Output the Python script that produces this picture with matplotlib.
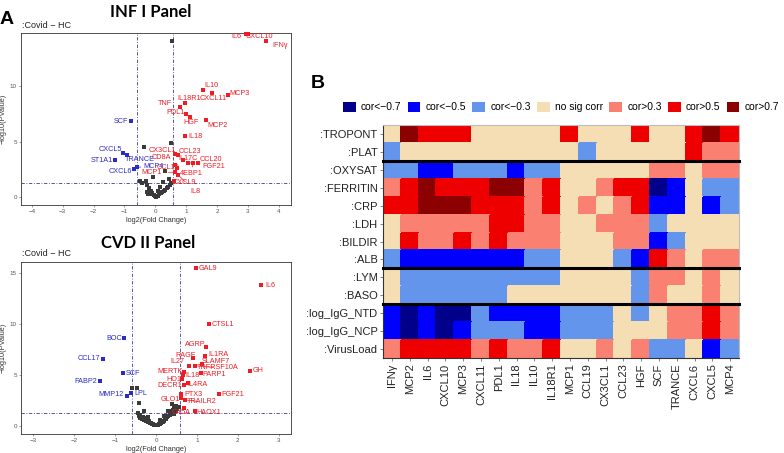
import matplotlib
matplotlib.use("Agg")
import matplotlib.pyplot as plt
import numpy as np
from matplotlib.colors import ListedColormap, BoundaryNorm
from matplotlib.patches import Patch

plt.rcParams['font.family'] = ['Liberation Sans', 'DejaVu Sans']

# ---------------- DATA: INF I panel volcano ----------------
inf_up_names = ["IL6", "CXCL10", "IFNγ", "IL10", "CXCL11", "MCP3", "IL18R1", "TNF", "PDL1", "HGF",
                "MCP2", "IL18", "CX3CL1", "CCL23", "CD8A", "IL17C", "CCL20", "FGF21", "CCL19", "4EBP1",
                "MCP1", "IL8", "CXCL9"]
inf_up_fc = [2.93, 3.0, 3.6, 1.55, 1.85, 2.35, 0.95, 0.8, 1.0, 1.13,
             1.65, 0.97, 0.63, 0.74, 0.65, 0.9, 1.06, 1.39, 0.71, 1.23,
             0.65, 0.74, 0.62]
inf_up_p = [14.75, 14.75, 14.05, 9.7, 9.4, 9.2, 8.45, 8.1, 7.5, 7.2,
            7.0, 5.5, 3.9, 3.8, 2.9, 3.33, 3.06, 3.06, 2.6, 3.06,
            2.25, 2.0, 1.5]
inf_dn_names = ["SCF", "CXCL5", "TRANCE", "ST1A1", "CXCL6", "MCP4"]
inf_dn_fc = [-0.8, -1.03, -0.9, -1.3, -0.68, -0.6]
inf_dn_p = [6.85, 3.95, 3.85, 3.4, 2.55, 2.7]
inf_ns_fc = [0.55, 0.52, -0.35, -0.48, -0.42, -0.3, -0.26, -0.2, -0.15, -0.1, -0.05, 0.0, 0.04,
             0.08, 0.13, 0.18, 0.22, 0.28, 0.32, 0.38, 0.42, 0.48, 0.52, -0.28, -0.12, 0.1, 0.25,
             0.32, -0.06, 0.45, -0.22, 0.15]
inf_ns_p = [14.1, 4.85, 4.5, 1.45, 1.3, 1.5, 1.1, 0.8, 0.55, 0.35, 0.2, 0.08, 0.05,
            0.12, 0.27, 0.35, 0.45, 0.55, 0.65, 0.8, 0.95, 1.1, 1.26, 0.45, 0.25, 0.6, 1.35,
            2.4, 1.8, 1.65, 0.3, 0.9]

# ---------------- DATA: CVD II panel volcano ----------------
cvd_up_names = ["GAL9", "IL6", "CTSL1", "AGRP", "IL1RA", "RAGE", "SLAMF7", "TNFRSF10A", "IL27", "MERTK",
                "GH", "PARP1", "IL18", "HO1", "IL4RA", "DECR1", "PTX3", "FGF21", "TRAILR2", "GLO1",
                "CA5A", "HAOX1"]
cvd_up_fc = [0.97, 2.57, 1.3, 1.23, 1.2, 0.91, 1.13, 0.96, 0.8, 0.69,
             2.3, 1.1, 0.66, 0.64, 0.78, 0.69, 0.61, 1.55, 0.71, 0.62,
             0.69, 0.96]
cvd_up_p = [15.5, 13.8, 10.0, 7.75, 6.9, 6.65, 6.1, 5.9, 5.9, 5.3,
            5.4, 5.2, 5.0, 4.6, 4.2, 4.0, 3.1, 3.1, 2.55, 2.7,
            1.75, 1.5]
cvd_dn_names = ["BOC", "CCL17", "SCF", "FABP2", "MMP12", "LPL"]
cvd_dn_fc = [-0.78, -1.3, -0.8, -1.37, -0.72, -0.6]
cvd_dn_p = [8.6, 6.6, 5.2, 4.4, 2.95, 3.25]
cvd_ns_fc = [-0.59, -0.47, -0.41, -0.45, -0.42, -0.4, -0.38, -0.35, -0.33, -0.3, -0.28, -0.25, -0.22,
             -0.2, -0.18, -0.15, -0.12, -0.1, -0.08, -0.05, -0.02, 0.0, 0.02, 0.05, 0.08, 0.1, 0.12,
             0.15, 0.18, 0.2, 0.22, 0.25, 0.28, 0.3, 0.33, 0.35, 0.38, 0.4, 0.42, 0.45, 0.48, 0.5,
             0.52, 0.55, 0.3, 0.4, 0.45, 0.2, -0.3, -0.2, 0.1]
cvd_ns_p = [3.7, 3.7, 2.25, 1.3, 1.0, 0.8, 1.1, 0.7, 0.9, 0.55, 0.75, 0.5, 0.6,
            0.35, 0.45, 0.3, 0.25, 0.2, 0.15, 0.12, 0.08, 0.05, 0.1, 0.12, 0.15, 0.2, 0.3,
            0.35, 0.4, 0.5, 0.65, 0.7, 0.85, 1.0, 1.1, 1.2, 1.4, 1.5, 1.6, 1.8, 1.5, 2.0,
            1.7, 1.9, 1.5, 2.1, 1.2, 1.0, 1.5, 0.9, 0.6]

# ---------------- DATA: correlation heatmap ----------------
heat_rows = [":TROPONT", ":PLAT", ":OXYSAT", ":FERRITIN", ":CRP", ":LDH", ":BILDIR", ":ALB",
             ":LYM", ":BASO", ":log_IgG_NTD", ":log_IgG_NCP", ":VirusLoad"]
heat_cols = ["IFNγ", "MCP2", "IL6", "CXCL10", "MCP3", "CXCL11", "PDL1", "IL18", "IL10", "IL18R1",
             "MCP1", "CCL19", "CX3CL1", "CCL23", "HGF", "SCF", "TRANCE", "CXCL6", "CXCL5", "MCP4"]
# -3: cor<-0.7, -2: cor<-0.5, -1: cor<-0.3, 0: no sig corr, 1: cor>0.3, 2: cor>0.5, 3: cor>0.7
heat_codes = [
    [0, 3, 2, 2, 2, 0, 0, 0, 0, 0, 2, 0, 0, 0, 2, 0, 0, 2, 3, 2],
    [-1, 0, 0, 0, 0, 0, 0, 0, 0, 0, 0, -1, 0, 0, 0, 0, 0, 2, 1, 1],
    [-1, -1, -2, -2, -1, -1, -1, -2, -1, -1, 0, 0, 0, 0, 0, 1, 1, 0, 1, 1],
    [1, 2, 3, 2, 2, 2, 3, 3, 1, 2, 0, 0, 1, 2, 2, -3, -2, 0, -1, -1],
    [2, 2, 3, 3, 3, 2, 2, 2, 1, 2, 0, 1, 0, 1, 2, -2, -2, 0, -2, -1],
    [0, 1, 1, 1, 1, 1, 2, 2, 1, 1, 0, 0, 1, 1, 1, -1, 0, 0, 0, 0],
    [0, 2, 1, 1, 2, 1, 2, 1, 1, 1, 0, 0, 0, 1, 1, -2, -1, 0, 0, 0],
    [-1, -2, -2, -2, -2, -2, -2, -2, -1, -1, 0, 0, 0, -1, -2, 2, 1, 0, 1, 1],
    [0, -1, -1, -1, -1, -1, -1, -1, -1, -1, 0, 0, 0, 0, -1, 1, 1, 0, 1, 0],
    [0, -1, -1, -1, -1, -1, -1, 0, 0, 0, 0, 0, 0, 0, -1, 1, 0, 0, 1, 0],
    [-2, -3, -2, -3, -3, -1, -2, -2, -2, -2, -1, -1, -1, 0, -1, 0, 1, 1, 2, 1],
    [-2, -3, -2, -3, -2, -1, -1, -1, -2, -2, -1, -1, -1, 0, 0, 0, 1, 1, 2, 1],
    [1, 2, 2, 2, 2, 1, 2, 1, 1, 2, 0, 0, 1, 0, 1, -1, -1, 0, -2, -1],
]
legend_labels = ["cor<\u22120.7", "cor<\u22120.5", "cor<\u22120.3", "no sig corr", "cor>0.3", "cor>0.5", "cor>0.7"]
group_breaks = [2, 8, 10]

# ---------------- STYLE ----------------
RED = '#EE1C24'
BLUE = '#2B2BC8'
GREY = '#3a3a3a'
LINE = '#3a3a9a'
heat_colors = ['#00008B', '#0000FF', '#6495ED', '#F5DEB3', '#FA8072', '#EE0000', '#8B0000']

# label offsets in pixels (dx, dy) relative to point
inf_offsets = {
    "IL6": (-9, -3), "CXCL10": (12, -3), "IFNγ": (14, -4), "IL10": (8, 4), "CXCL11": (1, -6),
    "MCP3": (12, 2), "IL18R1": (5, 5), "TNF": (-15, 4), "PDL1": (-11, 2), "HGF": (1, -5),
    "MCP2": (11, -6), "IL18": (10, 0), "CX3CL1": (-12, 3), "CCL23": (12, 4), "CD8A": (-14, 8),
    "IL17C": (5, 2), "CCL20": (23, 4), "FGF21": (16, -3), "CCL19": (-9, 1), "4EBP1": (-2, -10),
    "MCP1": (-24, 0), "IL8": (17, -16), "CXCL9": (10, -2),
    "SCF": (-10, 0), "CXCL5": (-13, 4), "TRANCE": (12, -5), "ST1A1": (-13, -1), "CXCL6": (-14, -3),
    "MCP4": (17, 1),
}
cvd_offsets = {
    "GAL9": (12, 0), "IL6": (9, 0), "CTSL1": (14, 0), "AGRP": (-11, 2), "IL1RA": (13, 1),
    "RAGE": (-8, 3), "SLAMF7": (14, 2), "TNFRSF10A": (22, -2), "IL27": (-11, 4), "MERTK": (-14, 0),
    "GH": (8, 0), "PARP1": (13, -2), "IL18": (9, -1), "HO1": (-8, 0), "IL4RA": (10, -1),
    "DECR1": (-14, 0), "PTX3": (12, 0), "FGF21": (13, 0), "TRAILR2": (17, -2), "GLO1": (-11, -1),
    "CA5A": (-3, -4), "HAOX1": (13, -2),
    "BOC": (-10, 0), "CCL17": (-14, 0), "SCF": (10, -1), "FABP2": (-14, 0), "MMP12": (-16, 1),
    "LPL": (9, -1),
}

fig = plt.figure(figsize=(7.84, 4.53), dpi=100)
W, H = 784.0, 453.0


def fig_axes(left, top, right, bottom):
    return fig.add_axes([left / W, 1 - bottom / H, (right - left) / W, (bottom - top) / H])


def volcano(ax, up_n, up_x, up_y, dn_n, dn_x, dn_y, ns_x, ns_y, offsets, xlim, ylim, xt, yt):
    ax.scatter(ns_x, ns_y, s=5, marker='s', color=GREY, linewidths=0, zorder=3, clip_on=False)
    ax.scatter(up_x, up_y, s=5, marker='s', color=RED, linewidths=0, zorder=4, clip_on=False)
    ax.scatter(dn_x, dn_y, s=5, marker='s', color=BLUE, linewidths=0, zorder=4, clip_on=False)
    for names, xs, ys, col in ((up_n, up_x, up_y, RED), (dn_n, dn_x, dn_y, BLUE)):
        for n, x, y in zip(names, xs, ys):
            dx, dy = offsets.get(n, (8, 0))
            long_seg = abs(dx) > 14 or abs(dy) > 8
            ax.annotate(n, (x, y), xytext=(dx, dy), textcoords='offset pixels', ha='center', va='center',
                        fontsize=5.2, color=col, zorder=5,
                        arrowprops=dict(arrowstyle='-', color=col, lw=0.5, shrinkA=3, shrinkB=0) if long_seg else None)
    ax.axvline(-0.585, color=LINE, lw=0.6, ls=(0, (4, 2, 1, 2)), zorder=2)
    ax.axvline(0.585, color=LINE, lw=0.6, ls=(0, (4, 2, 1, 2)), zorder=2)
    ax.axhline(1.301, color=LINE, lw=0.6, ls=(0, (4, 2, 1, 2)), zorder=2)
    ax.set_xlim(*xlim)
    ax.set_ylim(*ylim)
    ax.set_xticks(xt)
    ax.set_yticks(yt)
    ax.tick_params(labelsize=4.5, length=1.5, width=0.4, colors='#555555', pad=1.5)
    for sp in ax.spines.values():
        sp.set_color('#333333')
        sp.set_linewidth(0.6)
    ax.set_xlabel("log2(Fold Change)", fontsize=5.3, color='#333333', labelpad=2)
    ax.set_ylabel("\u2212log10(PValue)", fontsize=5.3, color='#333333', labelpad=2)


ax1 = fig_axes(21, 33, 291, 205)
volcano(ax1, inf_up_names, inf_up_fc, inf_up_p, inf_dn_names, inf_dn_fc, inf_dn_p, inf_ns_fc, inf_ns_p,
        inf_offsets, (-4.35, 4.4), (-0.7, 14.8), [-4, -3, -2, -1, 0, 1, 2, 3, 4], [0, 5, 10])

ax2 = fig_axes(21, 262, 291, 434)
volcano(ax2, cvd_up_names, cvd_up_fc, cvd_up_p, cvd_dn_names, cvd_dn_fc, cvd_dn_p, cvd_ns_fc, cvd_ns_p,
        cvd_offsets, (-3.3, 3.3), (-0.8, 16.1), [-3, -2, -1, 0, 1, 2, 3], [0, 5, 10, 15])

fig.text(7 / W, 1 - 20 / H, "A", fontsize=14, fontweight='bold', family='Liberation Sans', va='center', ha='center')
fig.text(151 / W, 1 - 12 / H, "INF I Panel", fontsize=12, fontweight='bold', family='Lato', va='center', ha='center')
fig.text(22 / W, 1 - 25 / H, ":Covid \u2212 HC", fontsize=6.5, va='center', ha='left', color='#222222')
fig.text(148 / W, 1 - 243 / H, "CVD II Panel", fontsize=12, fontweight='bold', family='Lato', va='center', ha='center')
fig.text(22 / W, 1 - 254 / H, ":Covid \u2212 HC", fontsize=6.5, va='center', ha='left', color='#222222')
fig.text(318 / W, 1 - 83 / H, "B", fontsize=14, fontweight='bold', family='Liberation Sans', va='center', ha='center')

# ---------------- heatmap ----------------
ax3 = fig_axes(383, 125, 739, 358)
Z = np.array(heat_codes)
cmap = ListedColormap(heat_colors)
norm = BoundaryNorm(np.arange(-3.5, 4.5, 1.0), cmap.N)
ax3.pcolormesh(np.arange(len(heat_cols) + 1), np.arange(len(heat_rows) + 1), Z, cmap=cmap, norm=norm,
               edgecolors='face', linewidth=0.2)
ax3.set_xlim(0, len(heat_cols))
ax3.set_ylim(len(heat_rows), 0)
for b in group_breaks:
    ax3.axhline(b, color='black', lw=2.2, zorder=5, clip_on=False)
ax3.set_yticks(np.arange(len(heat_rows)) + 0.5)
ax3.set_yticklabels(heat_rows, fontsize=8)
ax3.set_xticks(np.arange(len(heat_cols)) + 0.5)
ax3.set_xticklabels(heat_cols, fontsize=8, rotation=90)
ax3.tick_params(length=2.5, width=0.5, colors='#555555', pad=1.5)
for lab in ax3.get_xticklabels() + ax3.get_yticklabels():
    lab.set_color('#222222')
for side, sp in ax3.spines.items():
    sp.set_linewidth(0.8)
    sp.set_color('#333333' if side in ('left', 'bottom') else '#bbbbbb')

handles = [Patch(facecolor=c, edgecolor='none') for c in heat_colors]
fig.legend(handles, legend_labels, loc='center', bbox_to_anchor=(561 / W, 1 - 107 / H), ncol=7,
           frameon=False, fontsize=7.4, handlelength=1.25, handleheight=1.25, handletextpad=0.5,
           columnspacing=0.6, borderpad=0)

fig.savefig("out.png", dpi=100)
